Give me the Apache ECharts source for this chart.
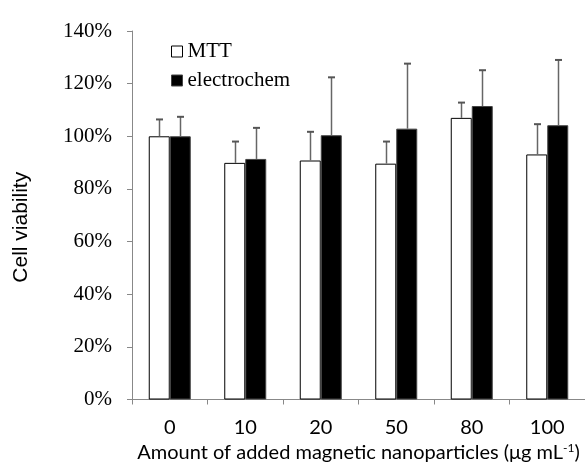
<!DOCTYPE html>
<html>
<head>
<meta charset="utf-8">
<script src="https://cdn.jsdelivr.net/npm/echarts@6/dist/echarts.min.js"></script>
<style>html,body{margin:0;padding:0;background:#fff;}#c{width:585px;height:468px;}</style>
</head>
<body>
<div id="c"></div>
<script>
const categories = ['0', '10', '20', '50', '80', '100'];
const mttValues = [100, 89.9, 90.8, 89.6, 107.0, 93.1];
const mttSD = [6.4, 8.1, 10.9, 8.4, 5.8, 11.5];
const electroValues = [100, 91.4, 100.4, 102.9, 111.5, 104.2];
const electroSD = [7.4, 11.8, 22.0, 24.7, 13.6, 24.8];
const yTicks = [0, 20, 40, 60, 80, 100, 120, 140];

const BAR_W = 21;
const chart = echarts.init(document.getElementById('c'), null, {renderer: 'canvas'});

function errSeries(values, sds, sign) {
  return {
    type: 'custom',
    z: 5,
    silent: true,
    data: values.map((v, i) => [i, v, v + sds[i]]),
    encode: {x: 0, y: [1, 2]},
    renderItem: function (params, api) {
      const base = api.coord([api.value(0), api.value(1)]);
      const top = api.coord([api.value(0), api.value(2)]);
      const x = Math.round(base[0] + sign * BAR_W / 2) + 0.5;
      const st = {stroke: '#666', lineWidth: 1.5};
      return {
        type: 'group',
        children: [
          {type: 'line', shape: {x1: x, y1: base[1], x2: x, y2: top[1]}, style: st},
          {type: 'line', shape: {x1: x - 3.5, y1: top[1], x2: x + 3.5, y2: top[1]}, style: {stroke: '#555', lineWidth: 2}}
        ]
      };
    }
  };
}

chart.setOption({
  animation: false,
  grid: {left: 132, right: 0, top: 31, bottom: 65, containLabel: false},
  legend: {
    data: ['MTT', 'electrochem'],
    orient: 'vertical',
    left: 166, top: 36,
    itemWidth: 11, itemHeight: 11, itemGap: 8,
    icon: 'rect',
    itemStyle: {borderWidth: 1},
    textStyle: {fontFamily: 'Liberation Serif', fontSize: 21, color: '#000', padding: [0,0,0,0]}
  },
  xAxis: {
    type: 'category',
    data: categories,
    boundaryGap: true,
    axisLine: {lineStyle: {color: '#888', width: 1}},
    axisTick: {show: true, length: 5, lineStyle: {color: '#888'}},
    axisLabel: {fontFamily: 'Lato', fontSize: 20, color: '#000', margin: 18},
    name: 'Amount of added magnetic nanoparticles (μg mL{sup|-1})',
    nameLocation: 'middle',
    nameGap: 43,
    nameTextStyle: {
      fontFamily: 'Lato', fontSize: 20, color: '#000',
      rich: {sup: {fontFamily: 'Lato', fontSize: 12, color: '#000', padding: [0, 0, 9, 0]}}
    }
  },
  yAxis: {
    type: 'value',
    min: 0, max: 140, interval: 20,
    splitLine: {show: false},
    axisLine: {show: true, lineStyle: {color: '#888', width: 1}},
    axisTick: {show: true, length: 5, lineStyle: {color: '#888'}},
    axisLabel: {fontFamily: 'Liberation Serif', fontSize: 21, color: '#000', margin: 20,
      formatter: v => yTicks.includes(v) ? v + '%' : ''},
    name: 'Cell viability',
    nameLocation: 'middle',
    nameGap: 100,
    nameTextStyle: {fontFamily: 'Liberation Sans', fontSize: 21, color: '#000', padding: [0, 24, 0, 0]}
  },
  series: [
    {name: 'MTT', type: 'bar', data: mttValues, barWidth: BAR_W, barGap: '0%',
      itemStyle: {color: '#fff', borderColor: '#000', borderWidth: 1}},
    {name: 'electrochem', type: 'bar', data: electroValues, barWidth: BAR_W, barGap: '0%',
      itemStyle: {color: '#000', borderColor: '#444', borderWidth: 1}},
    errSeries(mttValues, mttSD, -1),
    errSeries(electroValues, electroSD, 1)
  ]
});
</script>
</body>
</html>
